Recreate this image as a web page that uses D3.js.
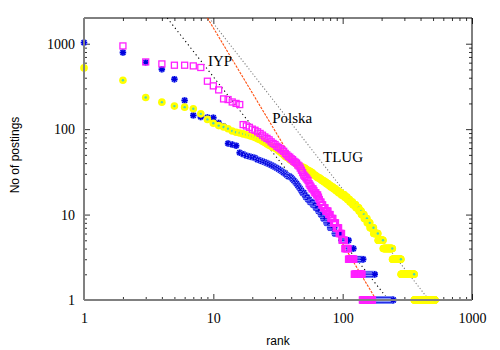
<!DOCTYPE html>
<html>
<head>
<meta charset="utf-8">
<script src="https://cdnjs.cloudflare.com/ajax/libs/d3/7.8.5/d3.min.js"></script>
<style>
	body { margin: 0; background: #fff; }
	.axis text { font-family: "Liberation Serif", "DejaVu Serif", serif; font-size: 14px; fill: #000; }
	.axis-title { font-family: "Liberation Sans", Arial, sans-serif; font-size: 12px; }
	.fit-label { font-family: "Liberation Serif", "DejaVu Serif", serif; font-size: 15px; }
</style>
</head>
<body>
<div id="chart"></div>
<script>

// postings per person, sorted by rank: [no of postings, how many people have it]
var polska = [[2400,1],[942,1],[612,1],[580,1],[560,2],[550,1],[527,1],[364,1],[321,1],[288,1],[226,1],[222,1],[208,1],[200,1],[194,1],
	[113,1],[109,1],[105,1],[100,1],[97,1],[93,1],[89,1],[85,1],[81,1],[78,1],[75,1],[71,1],[68,1],[66,1],[63,1],[61,1],[59,1],[57,1],[55,1],[52,1],
	[50,1],[48,1],[47,1],[45,1],[44,1],[42,1],[41,1],[40,1],[38,1],[37,1],[35,1],[33,1],[31,1],[29,1],[28,1],[27,1],[26,1],[25,1],[23,1],[22,1],
	[21,1],[20,2],[19,1],[18,2],[17,2],[16,1],[15,1],[14,2],[13,2],[12,3],[11,4],[10,3],[9,4],[8,4],[7,5],[6,5],[5,5],[4,7],[3,12],[2,19],[1,29]];

var iyp = [[1030,1],[789,1],[605,1],[503,1],[384,1],[217,1],[145,1],[139,1],[137,1],[136,1],[118,1],[108,1],[68,1],[66,1],[64,1],[53,1],
	[51,1],[49,1],[48,1],[47,1],[46,1],[44,1],[43,1],[42,1],[41,1],[40,1],[39,1],[38,1],[37,1],[36,1],[35,1],[34,1],[33,1],[32,1],[31,1],[30,1],
	[29,1],[28,2],[27,1],[26,1],[25,1],[24,1],[23,1],[22,1],[21,1],[20,1],[19,1],[18,2],[17,1],[16,2],[15,2],[14,3],[13,3],[12,3],[11,3],[10,3],
	[9,4],[8,5],[7,7],[6,11],[5,14],[4,10],[3,23],[2,33],[1,69]];

var tlug = [[521,1],[374,1],[235,1],[207,1],[186,1],[181,1],[173,1],[151,1],[130,1],[117,1],[110,1],[106,1],[101,1],[95,1],[92,1],[90,1],
	[88,1],[86,1],[84,1],[82,1],[80,1],[77,1],[75,1],[72,1],[70,1],[67,1],[65,1],[63,1],[61,1],[60,1],[58,1],[56,1],[54,1],[52,1],[50,1],[48,1],
	[47,1],[46,1],[44,1],[43,1],[42,1],[41,1],[40,1],[39,1],[38,1],[37,2],[36,2],[35,2],[34,1],[33,2],[32,2],[31,2],[30,1],[29,2],[28,2],[27,3],
	[26,2],[25,3],[24,3],[23,3],[22,3],[21,4],[20,4],[19,4],[18,5],[17,6],[16,5],[15,5],[14,6],[13,7],[12,7],[11,6],[10,7],[9,8],[8,8],[7,11],
	[6,14],[5,18],[4,37],[3,40],[2,75],[1,160]];

// power-law fit lines: end points (rank, postings)
var fitNames = ["IYP", "Polska", "TLUG"];
var fitRanks = [[4.4, 226], [9.0, 182], [9.3, 465]];
var fitPostings = [[2000, 1], [2000, 1], [2000, 1]];
var labelRanks = [9.1, 28.5, 70.5];
var labelPostings = [546, 117, 41];

var xTickLabels = [1, 10, 100, 1000];
var yTickLabels = [1, 10, 100, 1000];


var margin = { top: 18, right: 28, bottom: 50, left: 84 };
var width = 500 - margin.left - margin.right,
	height = 350 - margin.top - margin.bottom;

var svg = d3.select("#chart").append("svg")
	.attr("width", 500)
	.attr("height", 350)
	.append("g")
	.attr("transform", "translate(" + margin.left + "," + margin.top + ")");

var x = d3.scaleLog().domain([1, 1000]).range([0, width]);
var y = d3.scaleLog().domain([1, 2000]).range([height, 0]);

// run-length -> one point per rank
function toPoints(runs) {
	var pts = [], rank = 1;
	runs.forEach(function (r) {
		for (var i = 0; i < r[1]; i++) {
			pts.push({ rank: rank, value: r[0] });
			rank++;
		}
	});
	return pts.filter(function (d) { return d.value <= 2000; });
}

// minor + major ticks, pointing inwards on all four sides
var minorX = x.ticks().filter(function (d) { return xTickLabels.indexOf(d) < 0; });
var minorY = y.ticks().filter(function (d) { return yTickLabels.indexOf(d) < 0 && d < 2000; });

function addAxis(axis, transform, cls) {
	var g = svg.append("g").attr("class", "axis " + cls).attr("transform", transform).call(axis);
	g.selectAll(".tick line").attr("stroke", "#333");
	return g;
}

addAxis(d3.axisBottom(x).tickValues(minorX).tickSize(-3).tickSizeOuter(0).tickFormat(""), "translate(0," + height + ")", "xb-minor");
addAxis(d3.axisTop(x).tickValues(minorX).tickSize(-3).tickSizeOuter(0).tickFormat(""), "translate(0,0)", "xt-minor");
addAxis(d3.axisLeft(y).tickValues(minorY).tickSize(-3).tickSizeOuter(0).tickFormat(""), "translate(0,0)", "yl-minor");
addAxis(d3.axisRight(y).tickValues(minorY).tickSize(-3).tickSizeOuter(0).tickFormat(""), "translate(" + width + ",0)", "yr-minor");

addAxis(d3.axisBottom(x).tickValues(xTickLabels).tickSize(-6).tickSizeOuter(0).tickPadding(13).tickFormat(d3.format("d")), "translate(0," + height + ")", "x-axis");
addAxis(d3.axisTop(x).tickValues(xTickLabels).tickSize(-6).tickSizeOuter(0).tickFormat(""), "translate(0,0)", "xt-axis");
addAxis(d3.axisLeft(y).tickValues(yTickLabels).tickSize(-6).tickSizeOuter(0).tickPadding(9).tickFormat(d3.format("d")), "translate(0,0)", "y-axis");
addAxis(d3.axisRight(y).tickValues(yTickLabels).tickSize(-6).tickSizeOuter(0).tickFormat(""), "translate(" + width + ",0)", "yr-axis");

svg.selectAll(".axis .domain").attr("stroke", "none");

// frame: grey left/bottom, black top/right
svg.append("line").attr("x1", 0).attr("x2", width).attr("y1", 0).attr("y2", 0).attr("stroke", "#000").attr("stroke-width", 1);
svg.append("line").attr("x1", width).attr("x2", width).attr("y1", 0).attr("y2", height).attr("stroke", "#000").attr("stroke-width", 1);

// fit lines
var fitColors = ["#000", "#ff5010", "#808080"];
var fitDash = ["1.2,3", "2.5,1.2", "1.2,2"];
fitNames.forEach(function (name, i) {
	svg.append("line")
		.attr("x1", x(fitRanks[i][0])).attr("y1", y(fitPostings[i][0]))
		.attr("x2", x(fitRanks[i][1])).attr("y2", y(fitPostings[i][1]))
		.attr("stroke", fitColors[i])
		.attr("stroke-width", 1.1)
		.attr("stroke-dasharray", fitDash[i]);
});

// IYP - blue asterisks
var star = "M-3.2,0H3.2M0,-3.2V3.2M-2.4,-2.4L2.4,2.4M-2.4,2.4L2.4,-2.4";
var blue = svg.append("g").selectAll("g")
	.data(toPoints(iyp))
	.enter().append("g")
	.attr("transform", function (d) { return "translate(" + x(d.rank) + "," + y(d.value) + ")"; });
blue.append("path").attr("d", star).attr("stroke", "#8fa0ff").attr("stroke-width", 3.2).attr("fill", "none");
blue.append("path").attr("d", star).attr("stroke", "#0000dd").attr("stroke-width", 1.4).attr("fill", "none");

// TLUG - yellow dots
var yellow = svg.append("g").selectAll("g")
	.data(toPoints(tlug))
	.enter().append("g")
	.attr("transform", function (d) { return "translate(" + x(d.rank) + "," + y(d.value) + ")"; });
yellow.append("circle").attr("r", 3.8).attr("fill", "#ffff00");
yellow.append("circle").attr("r", 1.2).attr("fill", "#48d4c0");

// Polska - magenta open squares
svg.append("g").selectAll("rect")
	.data(toPoints(polska))
	.enter().append("rect")
	.attr("x", function (d) { return x(d.rank) - 3; })
	.attr("y", function (d) { return y(d.value) - 3; })
	.attr("width", 6)
	.attr("height", 6)
	.attr("fill", "none")
	.attr("stroke", "#ff20ff")
	.attr("stroke-width", 1.3);

// grey left / bottom border on top of points
svg.append("line").attr("x1", 0).attr("x2", 0).attr("y1", 0).attr("y2", height).attr("stroke", "#808080").attr("stroke-width", 2);
svg.append("line").attr("x1", 0).attr("x2", width).attr("y1", height).attr("y2", height).attr("stroke", "#808080").attr("stroke-width", 2);

// labels next to the fit lines
fitNames.forEach(function (name, i) {
	svg.append("text")
		.attr("class", "fit-label")
		.attr("x", x(labelRanks[i]))
		.attr("y", y(labelPostings[i]))
		.text(name);
});

svg.append("text")
	.attr("class", "axis-title")
	.attr("x", width / 2)
	.attr("y", height + 45)
	.attr("text-anchor", "middle")
	.text("rank");

svg.append("text")
	.attr("class", "axis-title")
	.attr("transform", "translate(-65," + (height / 2 - 4) + ") rotate(-90)")
	.attr("text-anchor", "middle")
	.text("No of postings");

</script>
</body>
</html>
